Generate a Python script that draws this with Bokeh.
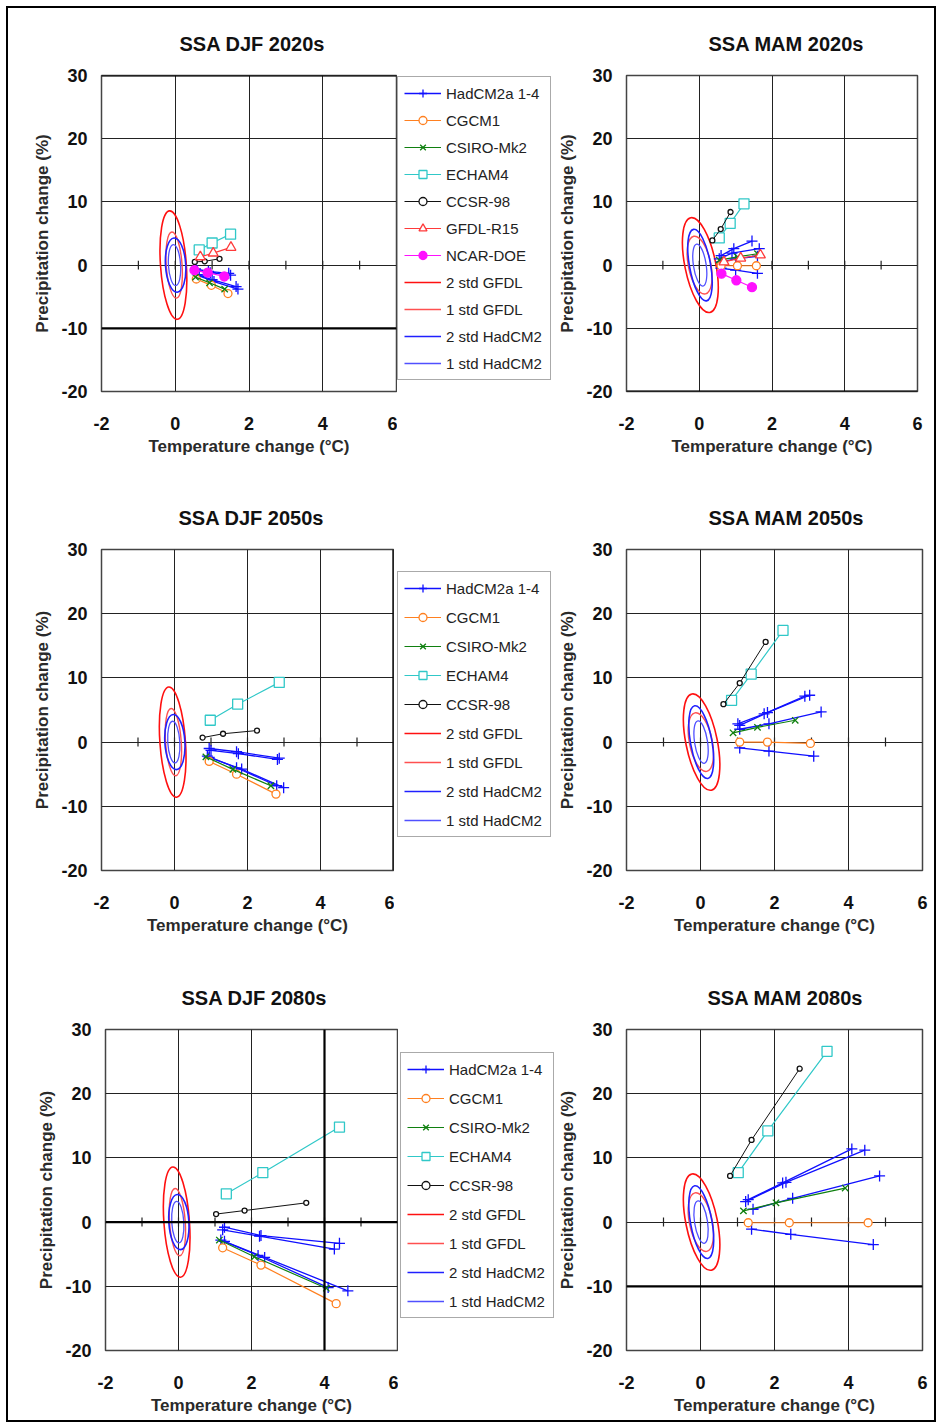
from bokeh.plotting import figure
from bokeh.layouts import row, column
from bokeh.models import Legend, LegendItem, Span, FixedTicker
from bokeh.embed import file_html
from bokeh.resources import INLINE

# ---------------- data ----------------
X_TICKS = [-2, 0, 2, 4, 6]
Y_TICKS = [-20, -10, 0, 10, 20, 30]
ZERO_AXIS_TICKS = [-1, 0, 1, 2, 3, 4, 5]

MODELS = ["HadCM2a 1-4", "CGCM1", "CSIRO-Mk2", "ECHAM4", "CCSR-98", "GFDL-R15", "NCAR-DOE"]
ELL_LABELS = ["2 std GFDL", "1 std GFDL", "2 std HadCM2", "1 std HadCM2"]

# natural variability ellipses (centre T, centre P, width degC, height %, tilt rad)
DJF_ELL_X = [-0.05, -0.03, 0.01, -0.02]
DJF_ELL_Y = [0.0, 0.0, 0.0, 0.0]
DJF_ELL_W = [0.70, 0.43, 0.55, 0.33]
DJF_ELL_H = [17.2, 10.5, 8.6, 6.5]
DJF_ELL_A = [0.07, 0.07, 0.06, 0.06]

MAM_ELL_X = [0.03, 0.01, 0.02, 0.015]
MAM_ELL_Y = [0.0, 0.0, 0.0, 0.0]
MAM_ELL_W = [0.85, 0.62, 0.58, 0.35]
MAM_ELL_H = [15.3, 9.3, 11.5, 6.7]
MAM_ELL_A = [0.20, 0.20, 0.18, 0.15]

# temperature change (T) and precipitation change (P) per model; HadCM2 has 4 members
DJF_2020S_T = {
    "HadCM2a 1-4": [[0.55, 0.9, 1.45], [0.6, 0.95, 1.5], [0.6, 1.0, 1.65], [0.65, 1.05, 1.7]],
    "CGCM1": [0.57, 0.98, 1.43],
    "CSIRO-Mk2": [0.55, 0.93, 1.34],
    "ECHAM4": [0.65, 1.0, 1.5],
    "CCSR-98": [0.53, 0.8, 1.2],
    "GFDL-R15": [0.68, 1.03, 1.51],
    "NCAR-DOE": [0.52, 0.88, 1.33],
}
DJF_2020S_P = {
    "HadCM2a 1-4": [[-0.6, -1.0, -1.3], [-0.9, -1.2, -1.6], [-1.5, -2.3, -3.4], [-1.7, -2.6, -3.8]],
    "CGCM1": [-2.2, -3.2, -4.5],
    "CSIRO-Mk2": [-1.9, -2.8, -3.8],
    "ECHAM4": [2.4, 3.5, 4.9],
    "CCSR-98": [0.5, 0.6, 1.0],
    "GFDL-R15": [1.3, 1.9, 2.8],
    "NCAR-DOE": [-0.8, -1.2, -1.8],
}

MAM_2020S_T = {
    "HadCM2a 1-4": [[0.6, 0.95, 1.45], [0.55, 0.9, 1.65], [0.6, 1.0, 1.6], [0.6, 1.0, 1.6]],
    "CGCM1": [0.6, 1.05, 1.57],
    "CSIRO-Mk2": [0.55, 1.05, 1.6],
    "ECHAM4": [0.55, 0.85, 1.23],
    "CCSR-98": [0.36, 0.59, 0.86],
    "GFDL-R15": [0.68, 1.14, 1.68],
    "NCAR-DOE": [0.61, 1.02, 1.45],
}
MAM_2020S_P = {
    "HadCM2a 1-4": [[1.5, 2.6, 3.8], [1.0, 1.9, 2.6], [0.5, 1.0, 1.4], [-0.5, -0.8, -1.3]],
    "CGCM1": [-0.1, -0.1, -0.1],
    "CSIRO-Mk2": [0.8, 1.3, 1.8],
    "ECHAM4": [4.3, 6.6, 9.7],
    "CCSR-98": [3.9, 5.7, 8.4],
    "GFDL-R15": [0.5, 1.1, 1.6],
    "NCAR-DOE": [-1.35, -2.4, -3.5],
}

DJF_2050S_T = {
    "HadCM2a 1-4": [[0.95, 1.7, 2.87], [1.0, 1.75, 2.82], [0.95, 1.84, 2.99], [0.9, 1.7, 2.8]],
    "CGCM1": [0.95, 1.7, 2.78],
    "CSIRO-Mk2": [0.86, 1.6, 2.64],
    "ECHAM4": [0.98, 1.73, 2.87],
    "CCSR-98": [0.77, 1.33, 2.26],
}
DJF_2050S_P = {
    "HadCM2a 1-4": [[-1.0, -1.5, -2.5], [-1.3, -1.8, -2.7], [-2.4, -4.2, -7.1], [-2.2, -4.0, -6.8]],
    "CGCM1": [-3.0, -5.0, -8.1],
    "CSIRO-Mk2": [-2.3, -4.25, -6.8],
    "ECHAM4": [3.4, 5.9, 9.3],
    "CCSR-98": [0.7, 1.3, 1.8],
}

MAM_2050S_T = {
    "HadCM2a 1-4": [[1.01, 1.72, 2.82], [1.06, 1.81, 2.95], [1.06, 1.85, 3.26], [1.06, 1.85, 3.06]],
    "CGCM1": [1.06, 1.81, 2.97],
    "CSIRO-Mk2": [0.88, 1.54, 2.56],
    "ECHAM4": [0.84, 1.37, 2.23],
    "CCSR-98": [0.62, 1.06, 1.76],
}
MAM_2050S_P = {
    "HadCM2a 1-4": [[2.85, 4.4, 7.15], [2.6, 4.6, 7.3], [2.0, 2.85, 4.7], [-0.9, -1.4, -2.2]],
    "CGCM1": [0.0, 0.0, -0.2],
    "CSIRO-Mk2": [1.45, 2.3, 3.4],
    "ECHAM4": [6.5, 10.6, 17.4],
    "CCSR-98": [5.9, 9.2, 15.6],
}

DJF_2080S_T = {
    "HadCM2a 1-4": [[1.26, 2.26, 4.41], [1.21, 2.22, 4.27], [1.26, 2.36, 4.64], [1.16, 2.18, 4.1]],
    "CGCM1": [1.21, 2.26, 4.32],
    "CSIRO-Mk2": [1.12, 2.08, 4.05],
    "ECHAM4": [1.31, 2.31, 4.41],
    "CCSR-98": [1.03, 1.81, 3.5],
}
DJF_2080S_P = {
    "HadCM2a 1-4": [[-0.8, -2.1, -3.3], [-1.2, -2.2, -4.2], [-3.0, -5.5, -10.7], [-2.8, -5.2, -10.2]],
    "CGCM1": [-4.0, -6.7, -12.7],
    "CSIRO-Mk2": [-2.8, -5.4, -10.3],
    "ECHAM4": [4.4, 7.7, 14.8],
    "CCSR-98": [1.25, 1.8, 3.0],
}

MAM_2080S_T = {
    "HadCM2a 1-4": [[1.29, 2.22, 4.09], [1.22, 2.31, 4.44], [1.42, 2.49, 4.84], [1.38, 2.44, 4.67]],
    "CGCM1": [1.29, 2.4, 4.53],
    "CSIRO-Mk2": [1.16, 2.04, 3.91],
    "ECHAM4": [1.02, 1.82, 3.42],
    "CCSR-98": [0.8, 1.38, 2.68],
}
MAM_2080S_P = {
    "HadCM2a 1-4": [[3.5, 6.1, 11.4], [3.2, 6.2, 11.2], [2.0, 3.7, 7.2], [-1.1, -1.9, -3.5]],
    "CGCM1": [-0.1, -0.1, -0.1],
    "CSIRO-Mk2": [1.75, 3.0, 5.3],
    "ECHAM4": [7.7, 14.2, 26.6],
    "CCSR-98": [7.2, 12.8, 23.9],
}

# ---------------- styles ----------------
FONT = "Liberation Sans"
STYLE = {
    "HadCM2a 1-4": dict(color="#1010ff", marker="cross", size=11, fill=None, lw=1.3),
    "CGCM1": dict(color="#ff8020", marker="circle", size=8, fill="white", lw=1.2),
    "CSIRO-Mk2": dict(color="#108010", marker="x", size=9, fill=None, lw=1.2),
    "ECHAM4": dict(color="#30c8c8", marker="square", size=10, fill="white", lw=1.2),
    "CCSR-98": dict(color="#111111", marker="circle", size=5, fill="white", lw=1.0),
    "GFDL-R15": dict(color="#ff3a3a", marker="triangle", size=10, fill="white", lw=1.2),
    "NCAR-DOE": dict(color="#ff10ff", marker="circle", size=9, fill="#ff10ff", lw=1.2),
}
ELL_STYLE = {
    "2 std GFDL": dict(color="#ff1010", lw=1.6),
    "1 std GFDL": dict(color="#ff5050", lw=1.4),
    "2 std HadCM2": dict(color="#2020ff", lw=1.6),
    "1 std HadCM2": dict(color="#5050ff", lw=1.3),
}


def series_list(v):
    return v if isinstance(v[0], list) else [v]


def make_panel(title, T, P, ell, size, borders, title_offset, heavy=()):
    w, h = size
    bl, br, bt, bb = borders
    p = figure(width=w, height=h, x_range=(-2, 6), y_range=(-20, 30),
               min_border_left=bl, min_border_right=br, min_border_top=bt, min_border_bottom=bb,
               output_backend="svg", toolbar_location=None,
               x_axis_label="Temperature change (°C)", y_axis_label="Precipitation change (%)")
    p.background_fill_color = "white"
    p.border_fill_color = "white"
    p.outline_line_color = "#444444"
    p.outline_line_width = 1.5

    p.title.text = title
    p.title.align = "left"
    p.title.offset = title_offset
    p.title.text_font = FONT
    p.title.text_font_size = "20px"
    p.title.text_font_style = "bold"
    p.title.text_color = "#111111"
    p.title.standoff = 42

    p.xaxis.ticker = FixedTicker(ticks=X_TICKS)
    p.yaxis.ticker = FixedTicker(ticks=Y_TICKS)
    p.xaxis.major_label_overrides = {v: str(v) for v in X_TICKS}
    p.yaxis.major_label_overrides = {v: str(v) for v in Y_TICKS}
    for ax in (p.xaxis[0], p.yaxis[0]):
        ax.axis_line_color = None
        ax.major_tick_out = 0
        ax.major_tick_in = 0
        ax.minor_tick_out = 0
        ax.minor_tick_in = 0
        ax.major_label_text_font = FONT
        ax.major_label_text_font_style = "bold"
        ax.major_label_text_font_size = "18px"
        ax.major_label_text_color = "#111111"
        ax.axis_label_text_font = FONT
        ax.axis_label_text_font_style = "bold"
        ax.axis_label_text_font_size = "17px"
        ax.axis_label_text_color = "#2a2a2a"
    p.xaxis.major_label_standoff = 25
    p.xaxis.axis_label_standoff = 4
    p.yaxis.major_label_standoff = 14
    p.yaxis.axis_label_standoff = 6
    p.xgrid.grid_line_color = "#222222"
    p.ygrid.grid_line_color = "#222222"
    p.xgrid.grid_line_width = 1
    p.ygrid.grid_line_width = 1

    for dim, loc in heavy:
        p.add_layout(Span(location=loc, dimension=dim, line_color="black", line_width=2.2))

    # ticks on the zero axis
    n = len(ZERO_AXIS_TICKS)
    p.segment(x0=ZERO_AXIS_TICKS, y0=[-0.7] * n, x1=ZERO_AXIS_TICKS, y1=[0.7] * n,
              line_color="#222222", line_width=1.2)

    ex, ey, ew, eh, ea = ell
    for i, lab in enumerate(ELL_LABELS):
        st = ELL_STYLE[lab]
        p.ellipse(x=[ex[i]], y=[ey[i]], width=[ew[i]], height=[eh[i]], angle=[ea[i]],
                  fill_color=None, line_color=st["color"], line_width=st["lw"])

    for m in MODELS:
        if m not in T:
            continue
        st = STYLE[m]
        for xx, yy in zip(series_list(T[m]), series_list(P[m])):
            p.line(xx, yy, line_color=st["color"], line_width=st["lw"])
            p.scatter(xx, yy, marker=st["marker"], size=st["size"], line_color=st["color"],
                      fill_color=st["fill"], line_width=1.3)
    return p


def make_legend_fig(T, P, ell, size, loc, spacing):
    """Separate narrow figure that only carries the legend box (its ranges keep the
    proxy renderers of the panel's series off-screen)."""
    w, h = size
    lf = figure(width=w, height=h, x_range=(100, 101), y_range=(100, 101),
                x_axis_location=None, y_axis_location=None,
                min_border_left=0, min_border_right=0, min_border_top=0, min_border_bottom=0,
                output_backend="svg", toolbar_location=None)
    lf.outline_line_color = None
    lf.grid.visible = False
    lf.background_fill_color = "white"
    lf.border_fill_color = "white"
    items = []
    for m in MODELS:
        if m not in T:
            continue
        st = STYLE[m]
        xx, yy = series_list(T[m])[0], series_list(P[m])[0]
        lr = lf.line(xx, yy, line_color=st["color"], line_width=st["lw"])
        sr = lf.scatter(xx, yy, marker=st["marker"], size=st["size"], line_color=st["color"],
                        fill_color=st["fill"], line_width=1.3)
        items.append(LegendItem(label=m, renderers=[lr, sr]))
    ex, ey = ell[0], ell[1]
    for i, lab in enumerate(ELL_LABELS):
        st = ELL_STYLE[lab]
        lr = lf.line([ex[i]], [ey[i]], line_color=st["color"], line_width=st["lw"])
        items.append(LegendItem(label=lab, renderers=[lr]))
    leg = Legend(items=items, location=loc, margin=0, padding=6,
                 spacing=spacing, glyph_width=37, glyph_height=20, label_height=20,
                 label_width=98, label_standoff=5,
                 label_text_font=FONT, label_text_font_size="15px", label_text_color="#222222",
                 border_line_color="#555555", border_line_width=1.2,
                 background_fill_color="white", background_fill_alpha=1)
    lf.add_layout(leg)
    return lf


DJF_ELL = (DJF_ELL_X, DJF_ELL_Y, DJF_ELL_W, DJF_ELL_H, DJF_ELL_A)
MAM_ELL = (MAM_ELL_X, MAM_ELL_Y, MAM_ELL_W, MAM_ELL_H, MAM_ELL_A)

p1 = make_panel("SSA DJF 2020s", DJF_2020S_T, DJF_2020S_P, DJF_ELL, (389, 472), (93, 1, 65, 89), 78,
                heavy=(("width", -10), ("width", 30)))
l1 = make_legend_fig(DJF_2020S_T, DJF_2020S_P, DJF_ELL, (158, 472), (0, 11), 7)
p2 = make_panel("SSA MAM 2020s", MAM_2020S_T, MAM_2020S_P, MAM_ELL, (379, 472), (66, 17, 67, 87), 82,
                heavy=(("width", -20),))

p3 = make_panel("SSA DJF 2050s", DJF_2050S_T, DJF_2050S_P, DJF_ELL, (386, 480), (93, 1, 69, 90), 77,
                heavy=(("height", 6),))
l3 = make_legend_fig(DJF_2050S_T, DJF_2050S_P, DJF_ELL, (161, 480), (3, 33), 9)
p4 = make_panel("SSA MAM 2050s", MAM_2050S_T, MAM_2050S_P, MAM_ELL, (379, 480), (67, 12, 69, 90), 82)

p5 = make_panel("SSA DJF 2080s", DJF_2080S_T, DJF_2080S_P, DJF_ELL, (390, 460), (97, 1, 69, 68), 76,
                heavy=(("height", 4), ("width", 0)))
l5 = make_legend_fig(DJF_2080S_T, DJF_2080S_P, DJF_ELL, (157, 460), (2, 32), 9)
p6 = make_panel("SSA MAM 2080s", MAM_2080S_T, MAM_2080S_P, MAM_ELL, (379, 460), (69, 12, 69, 70), 81,
                heavy=(("width", -10),))

layout = column(row(p1, l1, p2, width=926, height=472),
                row(p3, l3, p4, width=926, height=480),
                row(p5, l5, p6, width=926, height=460),
                width=926, height=1412, margin=(8, 0, 0, 8),
                styles={"outline": "2px solid black", "background-color": "white"})

open("out.html", "w").write(file_html(layout, INLINE))
